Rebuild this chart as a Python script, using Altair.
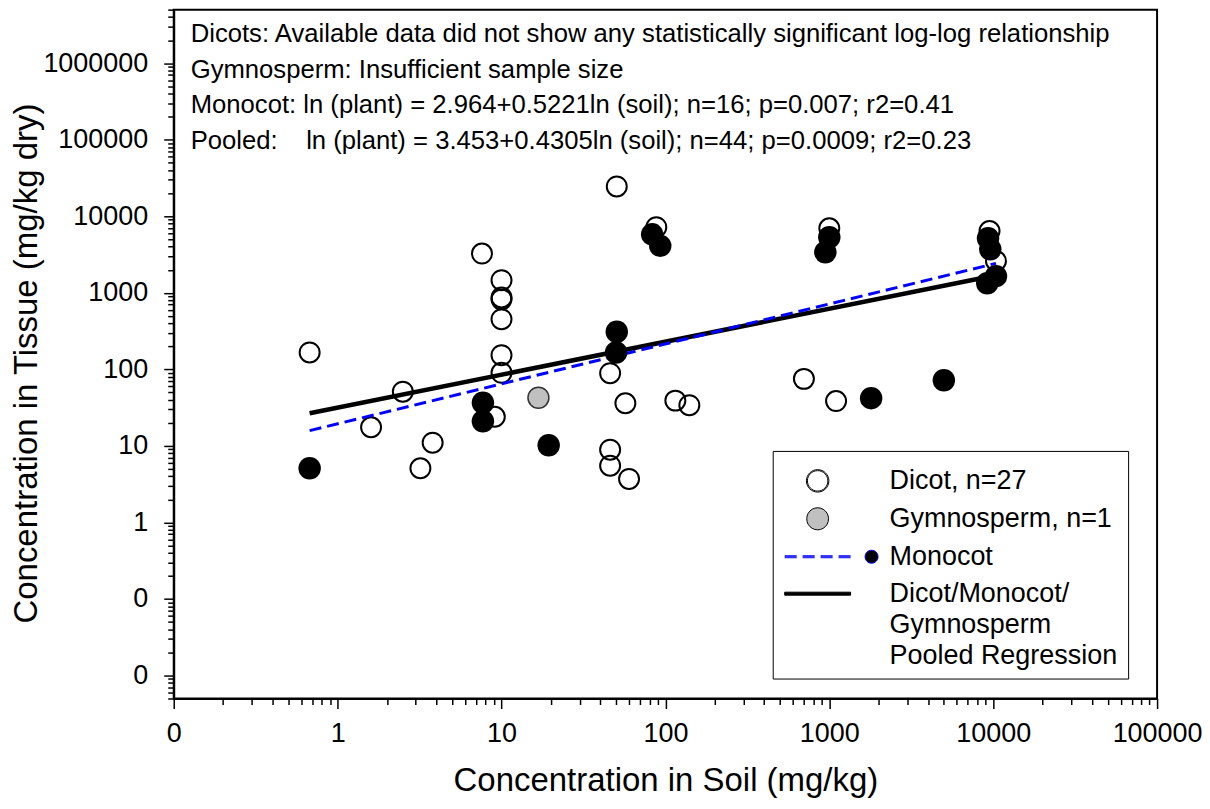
import altair as alt
import pandas as pd

# ---------------- values ----------------
dicot_soil = [0.675, 2.5, 1.6, 3.8, 3.2, 7.6, 10, 10, 10, 10, 10, 10, 9.1,
              46, 57, 46, 46, 60, 115, 140, 50.5, 88, 1000, 700, 1100, 9500, 10400]
dicot_tissue = [166, 51, 17.5, 11, 5.1, 3250, 1460, 870, 820, 452, 153, 90, 24,
                89, 36, 8.9, 5.5, 3.7, 39, 34, 24500, 7200, 6960, 75, 38.5, 6400, 2600]

monocot_soil = [0.675, 7.7, 7.7, 19.4, 50.5, 50, 83, 93, 1000, 946, 1800, 5000,
                9300, 9600, 10400, 9200]
monocot_tissue = [5.1, 36.6, 21, 10.2, 309, 166, 5800, 4100, 5310, 3380, 42, 72,
                  5150, 3700, 1650, 1330]

gymno_soil = [16.8]
gymno_tissue = [42.5]

# regression line end points (as drawn)
fit_soil = [0.675, 10400]
monocot_fit = [15.8, 2424]
pooled_fit = [26.7, 1694]

x_major = [0.1, 1, 10, 100, 1000, 10000, 100000]
y_major = [0.01, 0.1, 1, 10, 100, 1000, 10000, 100000, 1000000]

notes = [
    "Dicots: Available data did not show any statistically significant log-log relationship",
    "Gymnosperm: Insufficient sample size",
    "Monocot: ln (plant) = 2.964+0.5221ln (soil); n=16; p=0.007; r2=0.41",
    "Pooled:\u00a0\u00a0\u00a0\u00a0ln (plant) = 3.453+0.4305ln (soil); n=44; p=0.0009; r2=0.23",
]

legend_labels = ["Dicot, n=27", "Gymnosperm, n=1", "Monocot",
                 "Dicot/Monocot/Gymnosperm Pooled Regression"]
legend_fill = ["white", "#c0c0c0", "black", "black"]
legend_stroke = ["black", "black", "#0000ff", "black"]

# ---------------- tick lists ----------------
x_ticks = list(x_major)
for v in x_major[:-1]:
    x_ticks += [round(m * v, 10) for m in range(2, 10)]
y_ticks = list(y_major) + [round(m * 0.001, 10) for m in range(5, 10)]
for v in y_major:
    y_ticks += [round(m * v, 10) for m in range(2, 10) if m * v <= 5000000]

FONT = "Liberation Sans"
TEST = "abs(log(datum.value)/LN10 - round(log(datum.value)/LN10)) < 0.001"
LABEL = f"{TEST} ? (datum.value < 1 ? '0' : format(datum.value, 'd')) : ''"
TICK = {"condition": {"test": TEST, "value": 10}, "value": 6}

xs = alt.Scale(type="log", domain=[0.1, 100000], nice=False)
ys = alt.Scale(type="log", domain=[0.005, 5000000], nice=False)

x_axis = alt.Axis(values=x_ticks, labelExpr=LABEL, tickSize=TICK, grid=False,
                  labelFont=FONT, labelFontSize=27, labelColor="black",
                  labelPadding=12, labelFlush=False, labelOverlap=False,
                  domainColor="black", domainWidth=2, tickColor="black", tickWidth=1.5,
                  titleFont=FONT, titleFontSize=33, titleFontWeight="normal",
                  titleColor="black", titleY=92, titleBaseline="alphabetic")
y_axis = alt.Axis(values=y_ticks, labelExpr=LABEL, tickSize=TICK, grid=False,
                  labelFont=FONT, labelFontSize=27, labelColor="black",
                  labelPadding=16, labelFlush=False, labelOverlap=False,
                  domainColor="black", domainWidth=2, tickColor="black", tickWidth=1.5,
                  titleFont=FONT, titleFontSize=33, titleFontWeight="normal",
                  titleColor="black", titleAngle=270, titleX=-137, titleY=354,
                  titleBaseline="alphabetic", titleAlign="center")

X = alt.X("soil:Q", scale=xs, axis=x_axis, title="Concentration in Soil (mg/kg)")
Y = alt.Y("tissue:Q", scale=ys, axis=y_axis, title="Concentration in Tissue (mg/kg dry)")

dicot_df = pd.DataFrame({"soil": dicot_soil, "tissue": dicot_tissue})
mono_df = pd.DataFrame({"soil": monocot_soil, "tissue": monocot_tissue})
gymno_df = pd.DataFrame({"soil": gymno_soil, "tissue": gymno_tissue})
mono_fit_df = pd.DataFrame({"soil": fit_soil, "tissue": monocot_fit})
pooled_fit_df = pd.DataFrame({"soil": fit_soil, "tissue": pooled_fit})

dicots = alt.Chart(dicot_df).mark_point(
    shape="circle", size=400, filled=False, stroke="black", strokeWidth=2, opacity=1
).encode(x=X, y=Y)

pooled_line = alt.Chart(pooled_fit_df).mark_line(
    color="black", strokeWidth=4.5
).encode(x=X, y=Y)

mono_line = alt.Chart(mono_fit_df).mark_line(
    color="#0000ff", strokeWidth=3, strokeDash=[12, 6]
).encode(x=X, y=Y)

monocots = alt.Chart(mono_df).mark_circle(
    size=506, color="black", opacity=1
).encode(x=X, y=Y)

gymno = alt.Chart(gymno_df).mark_point(
    shape="circle", size=441, filled=True, fill="#c0c0c0", stroke="#333333",
    strokeWidth=1.5, opacity=1
).encode(x=X, y=Y)

# ---------------- legend symbols (custom paths, px / U) ----------------
U = 19.5  # one path unit = sqrt(symbolSize)/2 px


def p(x, y):
    return f"{x / U:.4f},{y / U:.4f}"


def circle(cx, r):
    return (f"M{p(cx - r, 0)}A{r / U:.4f},{r / U:.4f},0,1,1,{p(cx + r, 0)}"
            f"A{r / U:.4f},{r / U:.4f},0,1,1,{p(cx - r, 0)}Z")


dash_lines = "".join(
    f"M{p(a, dy)}L{p(a + 12, dy)}" for a in [-47, -29, -11, 7] for dy in [-1, 0, 1]
)
legend_paths = [
    circle(-14, 11.25) + circle(-14, 10.25),
    circle(-14, 10.9),
    dash_lines + circle(40, 6.5),
    f"M{p(-47, -1.5)}L{p(19, -1.5)}L{p(19, 1.5)}L{p(-47, 1.5)}Z",
]

LEG = alt.Legend(
    title=None, orient="none", legendX=600, legendY=442, padding=10,
    strokeColor="black", fillColor="white",
    labelFont=FONT, labelFontSize=27, labelColor="black",
    symbolOffset=29, labelOffset=38,
    labelLimit=500, rowPadding=4, symbolSize=U * U * 4, symbolStrokeWidth=1,
    symbolOpacity=1,
    labelExpr=("datum.label == 'Dicot/Monocot/Gymnosperm Pooled Regression' ? "
               "['Dicot/Monocot/', 'Gymnosperm', 'Pooled Regression'] : datum.label"),
)

legend_df = pd.DataFrame({"entry": legend_labels})
legend_layer = alt.Chart(legend_df).transform_filter("false").mark_point(
    filled=True, opacity=1, strokeWidth=1
).encode(
    shape=alt.Shape("entry:N", scale=alt.Scale(domain=legend_labels, range=legend_paths), legend=LEG),
    fill=alt.Fill("entry:N", scale=alt.Scale(domain=legend_labels, range=legend_fill), legend=LEG),
    stroke=alt.Stroke("entry:N", scale=alt.Scale(domain=legend_labels, range=legend_stroke), legend=LEG),
)

note_layer = alt.Chart(pd.DataFrame({"k": [0]})).mark_text(
    text=notes, align="left", baseline="alphabetic", font=FONT, fontSize=25.7,
    lineHeight=35.7, color="black"
).encode(x=alt.value(17), y=alt.value(32.5))

chart = alt.layer(
    dicots, pooled_line, mono_line, monocots, gymno, legend_layer, note_layer
).properties(
    width=985, height=690,
    autosize=alt.AutoSizeParams(type="none"),
    padding={"left": 166, "top": 1, "right": 45, "bottom": 100},
).configure(
    background="white",
    style={"guide-label": {"lineHeight": 31}},
    view={"stroke": "black", "strokeWidth": 2},
)

chart.save("out.html", embed_options={"renderer": "svg", "actions": False})
